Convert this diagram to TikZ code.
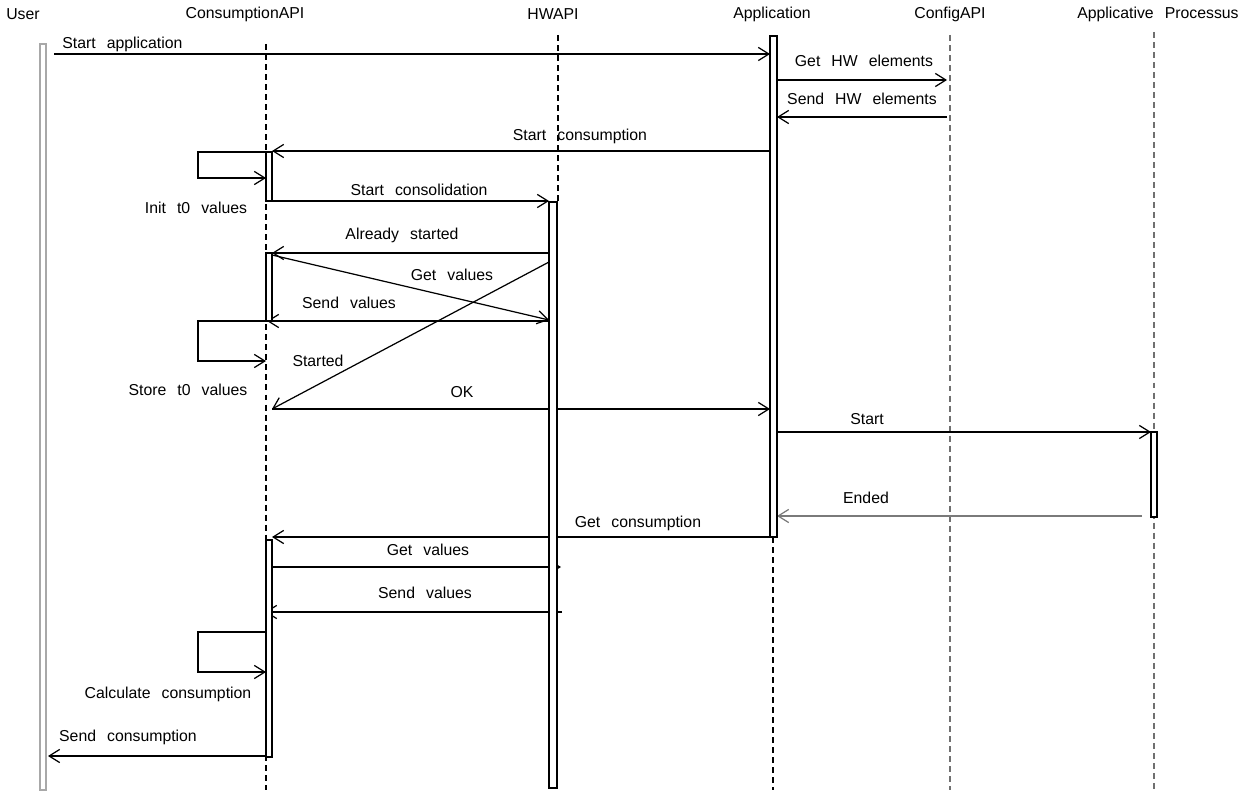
\documentclass[tikz,border=0pt]{standalone}
\usepackage{fontspec}
\setmainfont{Liberation Sans}
\usetikzlibrary{arrows.meta, positioning}
\definecolor{BarGray}{HTML}{A8A8A8}
\definecolor{LifeGray}{HTML}{707070}
\definecolor{EndGray}{HTML}{7A7A7A}
\newcommand{\seqfont}{\fontsize{9}{10}\selectfont\spaceskip=0.7em\relax}

\begin{document}
\begin{tikzpicture}[x=0.02cm, y=-0.02cm, >={Straight Barb[length=6pt, width=7.5pt]},
    lbl/.style={font=\seqfont, inner sep=0pt},
    msg/.style={->, line width=0.7pt},
    life/.style={line width=0.7pt, dash pattern=on 3.4pt off 2.3pt},
    actbar/.style={draw, fill=white, line width=0.7pt}]
  \useasboundingbox (0,0) rectangle (1255,794);

  % lifeline heads
  \node[lbl] (hUser) at (23,14) {User};
  \node[lbl] (hCons) at (245,14) {ConsumptionAPI};
  \node[lbl] (hHW) at (553,14) {HWAPI};
  \node[lbl] (hApp) at (772,14) {Application};
  \node[lbl] (hCfg) at (950,14) {ConfigAPI};
  \node[lbl] (hProc) at (1158,14) {Applicative Processus};

  % lifelines
  \draw[life] (266,44) -- (266,790);
  \draw[life] (558,35) -- (558,202);
  \draw[life] (773,537) -- (773,790);
  \draw[life, LifeGray] (950,35) -- (950,790);
  \draw[life, LifeGray] (1154,32) -- (1154,790);

  % message ends
  \coordinate (saS) at (54,54);     \coordinate (saE) at (770,54);
  \coordinate (ghS) at (777,80);    \coordinate (ghE) at (947,80);
  \coordinate (shS) at (947,117);   \coordinate (shE) at (777,117);
  \coordinate (scS) at (770,151);   \coordinate (scE) at (272,151);
  \coordinate (coS) at (272,201);   \coordinate (coE) at (549,201);
  \coordinate (asS) at (549,253);   \coordinate (asE) at (272,253);
  \coordinate (gvS) at (272,255);   \coordinate (gvE) at (549,320);
  \coordinate (svS) at (549,321);   \coordinate (svE) at (267,321);
  \coordinate (stS) at (549,262);   \coordinate (stE) at (272,409);
  \coordinate (okS) at (272,409);   \coordinate (okE) at (770,409);
  \coordinate (spS) at (777,432);   \coordinate (spE) at (1151,432);
  \coordinate (enS) at (1142,516);  \coordinate (enE) at (777,516);
  \coordinate (gcS) at (770,537);   \coordinate (gcE) at (272,537);
  \coordinate (gwS) at (272,567);   \coordinate (gwE) at (561,567);
  \coordinate (swS) at (562,612);   \coordinate (swE) at (265,612);
  \coordinate (snS) at (266,756);   \coordinate (snE) at (48,756);

  % self calls
  \coordinate (itS) at (266,152);   \coordinate (itE) at (266,178);
  \coordinate (stoS) at (266,321);  \coordinate (stoE) at (266,361);
  \coordinate (caS) at (266,632);   \coordinate (caE) at (266,672);

  % messages
  \draw[msg] (saS) -- (saE);
  \draw[msg] (ghS) -- (ghE);
  \draw[msg] (shS) -- (shE);
  \draw[msg] (scS) -- (scE);
  \draw[msg] (itS) -- ++(-68,0) |- (itE);
  \draw[msg] (coS) -- (coE);
  \draw[msg] (asS) -- (asE);
  \draw[msg] (gvS) -- (gvE);
  \draw[msg] (svS) -- (svE);
  \draw[msg] (stS) -- (stE);
  \draw[msg] (stoS) -- ++(-68,0) |- (stoE);
  \draw[msg] (okS) -- (okE);
  \draw[msg] (spS) -- (spE);
  \draw[msg, EndGray] (enS) -- (enE);
  \draw[msg] (gcS) -- (gcE);
  \draw[msg] (gwS) -- (gwE);
  \draw[msg] (swS) -- (swE);
  \draw[msg] (caS) -- ++(-68,0) |- (caE);
  \draw[msg] (snS) -- (snE);

  % activation bars
  \draw[actbar, draw=BarGray] (40,44) rectangle (46,790);
  \draw[actbar] (266,152) rectangle (272,201);
  \draw[actbar] (266,253) rectangle (272,321);
  \draw[actbar] (266,540) rectangle (272,757);
  \draw[actbar] (549,202) rectangle (557,788);
  \draw[actbar] (770,36) rectangle (777,537);
  \draw[actbar] (1151,432) rectangle (1157,517);

  % message labels
  \node[lbl, anchor=west] (lSa) at (62,44) {Start application};
  \node[lbl] (lGh) at (864,61) {Get HW elements};
  \node[lbl] (lSh) at (862,99) {Send HW elements};
  \node[lbl] (lSc) at (580,136) {Start consumption};
  \node[lbl] (lIt) at (196,208) {Init t0 values};
  \node[lbl] (lCo) at (419,190) {Start consolidation};
  \node[lbl] (lAs) at (402,235) {Already started};
  \node[lbl] (lGv) at (452,275) {Get values};
  \node[lbl] (lSv) at (349,303) {Send values};
  \node[lbl] (lSt) at (318,361) {Started};
  \node[lbl] (lSto) at (188,390) {Store t0 values};
  \node[lbl] (lOk) at (462,392) {OK};
  \node[lbl] (lSp) at (867,419) {Start};
  \node[lbl] (lEn) at (866,498) {Ended};
  \node[lbl] (lGc) at (638,523) {Get consumption};
  \node[lbl] (lGw) at (428,550) {Get values};
  \node[lbl] (lSw) at (425,593) {Send values};
  \node[lbl] (lCa) at (168,694) {Calculate consumption};
  \node[lbl] (lSn) at (128,737) {Send consumption};
\end{tikzpicture}
\end{document}
